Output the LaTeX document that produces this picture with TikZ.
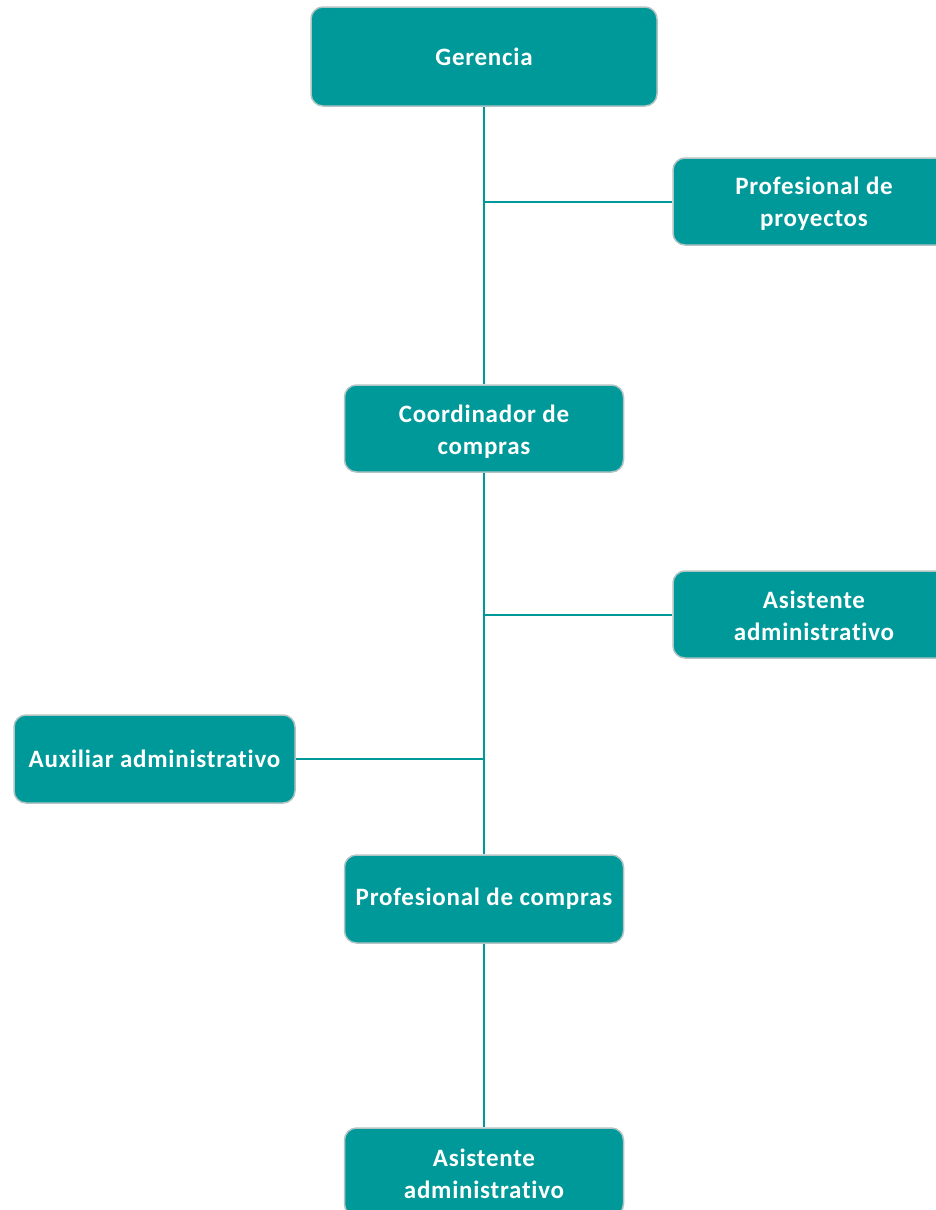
\documentclass[tikz,border=0pt]{standalone}
\usepackage{fontspec}
\setmainfont{Carlito}[LetterSpace=3,Ligatures={NoCommon}]
\definecolor{teal1}{RGB}{0,153,153}
\definecolor{edge1}{RGB}{178,196,196}
\newcommand{\twolines}[3]{\raisebox{#3}[\height][\depth]{\begin{tabular}{@{}c@{}}#1\\#2\end{tabular}}}
\begin{document}
\begin{tikzpicture}[x=1pt,y=-1pt,
  box/.style={draw=edge1,line width=1.5pt,fill=teal1,rounded corners=12pt,text=white,
    font=\fontsize{25}{32}\selectfont\bfseries,align=center,inner sep=0pt},
  conn/.style={draw=teal1,line width=2pt}]
\useasboundingbox (0,0) rectangle (936,1210);
\clip (0,0) rectangle (936,1210);
\node[box,minimum width=346pt,minimum height=99pt] (ger) at (484,56.5) {Gerencia};
\node[box,minimum width=282pt,minimum height=87pt] (proy) at (814,201.5) {\twolines{Profesional de}{proyectos}{-3pt}};
\node[box,minimum width=279pt,minimum height=87pt] (coord) at (484,428.5) {\twolines{Coordinador de}{compras}{-4pt}};
\node[box,minimum width=282pt,minimum height=87pt] (asis1) at (814,614.5) {\twolines{Asistente}{administrativo}{-4pt}};
\node[box,minimum width=281pt,minimum height=88pt] (aux) at (154.5,759) {Auxiliar administrativo};
\node[box,minimum width=279pt,minimum height=88pt] (prof) at (484,899) {Profesional de compras};
\node[box,minimum width=279pt,minimum height=88pt] (asis2) at (484,1172) {\twolines{Asistente}{administrativo}{-4pt}};
\coordinate (j1) at (484,201.5);
\coordinate (j2) at (484,614.5);
\coordinate (j3) at (484,759);
\draw[conn] (ger.south) -- (coord.north);
\draw[conn] (j1) -- (proy.west);
\draw[conn] (coord.south) -- (prof.north);
\draw[conn] (j2) -- (asis1.west);
\draw[conn] (j3) -- (aux.east);
\draw[conn] (prof.south) -- (asis2.north);
\end{tikzpicture}
\end{document}
